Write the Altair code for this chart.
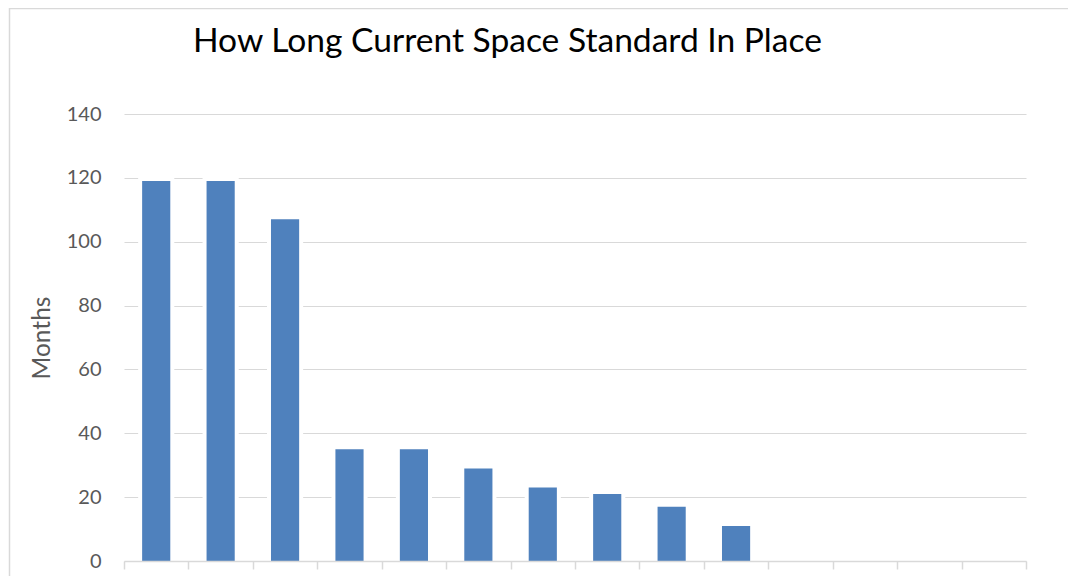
import altair as alt
import pandas as pd

# ---- data ----
categories = [str(i) for i in range(1, 15)]
months = [119, 119, 107, 35, 35, 29, 23, 21, 17, 11]
y_ticks = [0, 20, 40, 60, 80, 100, 120, 140]
title_text = "How Long Current Space Standard In Place"
y_title = "Months"

df = pd.DataFrame({"category": categories[:len(months)], "months": months})

FONT = "Lato"
GRID = "#D9D9D9"
LABEL = "#595959"
BAR = "#4F81BD"
BAR_FRAC = 0.437

x_enc = alt.X(
    "category:N",
    sort=categories,
    scale=alt.Scale(domain=categories, paddingInner=0, paddingOuter=0),
    axis=alt.Axis(
        title=None, labels=False, grid=False,
        domainColor=GRID, domainWidth=1.3,
        tickColor=GRID, tickWidth=1.5, tickSize=8,
        tickBand="extent", zindex=1,
    ),
)
y_enc = alt.Y(
    "months:Q",
    scale=alt.Scale(domain=[0, 140], nice=False),
    axis=alt.Axis(
        values=y_ticks, title=y_title,
        titleFont=FONT, titleFontSize=24.5, titleFontWeight="normal",
        titleColor=LABEL, titlePadding=12,
        labelFont=FONT, labelFontSize=20, labelColor=LABEL, labelPadding=23,
        domain=False, ticks=False, gridColor=GRID, gridWidth=1,
    ),
)

base = alt.Chart(df)
halo = base.mark_bar(
    color="white", stroke="white", strokeWidth=8,
    width=alt.RelativeBandSize(BAR_FRAC),
).encode(x=x_enc, y=y_enc)
bars = base.mark_bar(
    color=BAR, width=alt.RelativeBandSize(BAR_FRAC),
).encode(x=x_enc, y=y_enc)

one = pd.DataFrame({"k": [0]})
frame_left = alt.Chart(one).mark_rule(color=GRID, strokeWidth=1.5).encode(
    x=alt.value(-114.5), y=alt.value(-106), y2=alt.value(470)
)
frame_top = alt.Chart(one).mark_rule(color=GRID, strokeWidth=1.5).encode(
    x=alt.value(-114.5), x2=alt.value(944), y=alt.value(-105.5)
)

chart = alt.layer(halo, bars, frame_left, frame_top).properties(
    width=902,
    height=447,
    padding={"left": 116, "top": 106, "right": 42, "bottom": 15},
    autosize=alt.AutoSizeParams(type="none"),
    background="white",
    title=alt.TitleParams(
        title_text, font=FONT, fontSize=33.6, fontWeight="normal", color="#000000",
        anchor="start", frame="group", dx=69, offset=0, dy=78,
        baseline="alphabetic",
    ),
).configure_view(stroke=None)

chart.save("out.html", embed_options={"renderer": "svg", "actions": False})
